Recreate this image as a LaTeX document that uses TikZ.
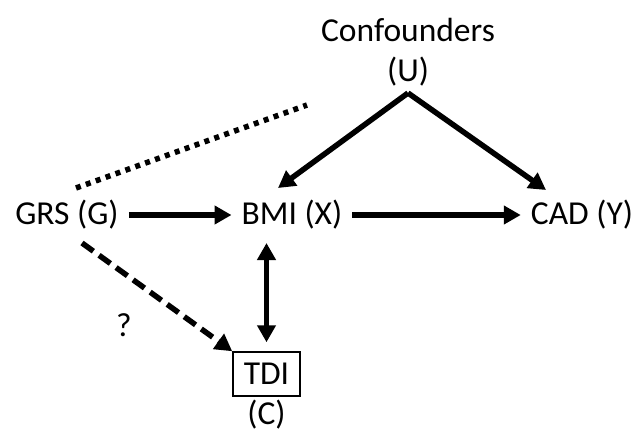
\documentclass[tikz,border=0pt]{standalone}
\usepackage{fontspec}
\setmainfont{Carlito}
\usepackage{tikz}
\usetikzlibrary{positioning}
\usetikzlibrary{arrows.meta}

\begin{document}
\begin{tikzpicture}[
		x=1pt, y=-1pt,
		every node/.style = {
			align=center,
			inner sep=3pt,
			font=\fontsize{33.5}{40}\selectfont
		},
		causal/.style = {
			draw,
			line width=5.5pt,
			-{Triangle[length=17pt,width=18pt]}
		},
		bothways/.style = {
			causal,
			{Triangle[length=17pt,width=18pt]}-{Triangle[length=17pt,width=18pt]}
		}
		]
		\useasboundingbox (0,0) rectangle (639,432);
		\node (conf) at (408,52) {Confounders\\(U)};
		\node (grs) at (67,215) {GRS (G)};
		\node (bmi) at (292,215) {BMI (X)};
		\node (cad) at (582,215) {CAD (Y)};
		\node (tdi) [draw, line width=1.5pt, minimum width=67pt, minimum height=44pt, inner sep=0pt] at (266.5,374) {TDI};
		\node (tdic) [below=0pt of tdi] {(C)};
		\node (qm) at (124,325) {?};
		\coordinate (apex) at (408,93);
		\coordinate (gtop) at (76,188);
		\coordinate (ctail) at (307,105);
		\coordinate (gbot) at (82,243);
		% arrows
		\draw[causal] (apex) -- (278,188);
		\draw[causal] (apex) -- (546,190);
		\draw[causal, shorten <=7pt, shorten >=7pt] (grs) -- (bmi);
		\draw[causal, shorten <=7pt, shorten >=7pt] (bmi) -- (cad);
		\draw[bothways] (tdi.north) ++(0,-9) -- (266.5,243);
		\draw[causal, dash pattern=on 14pt off 7pt] (gbot) -- (tdi.north west);
		\draw[line width=5.5pt, dash pattern=on 5pt off 5.5pt] (gtop) -- (ctail);
	\end{tikzpicture}
\end{document}
